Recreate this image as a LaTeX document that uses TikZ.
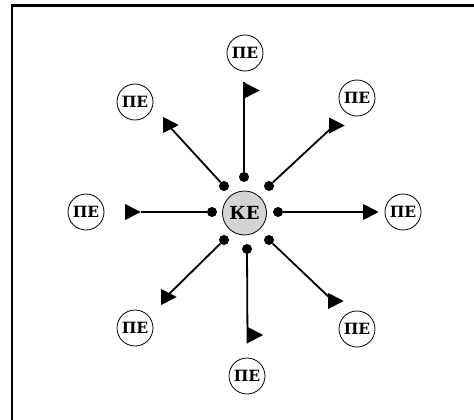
\documentclass[tikz,border=0pt]{standalone}
\usepackage{fontspec}
\setmainfont{DejaVu Serif}
\usetikzlibrary{shapes.geometric,positioning}
\tikzset{
  pe/.style={circle,draw,line width=0.8pt,minimum size=36pt,inner sep=0pt,
    font=\bfseries\fontsize{15.5}{15.5}\selectfont},
  ke/.style={circle,draw,fill=black!17,line width=0.8pt,minimum size=44pt,inner sep=0pt,
    font=\bfseries\fontsize{18}{18}\selectfont},
  jack/.style={circle,fill=black,minimum size=10pt,inner sep=0pt},
  flag/.style={isosceles triangle,isosceles triangle stretches,fill=black,
    minimum width=16pt,minimum height=15.5pt,inner sep=0pt,anchor=lower side},
  wire/.style={line width=1.8pt}
}
\begin{document}
\begin{tikzpicture}[x=1pt,y=-1pt]
	\useasboundingbox (0,0) rectangle (474,420);
	% frame
	\draw [line width=2.5pt] (12,420) -- (12,5.5) -- (474,5.5);
	% centre
	\node [ke] (ke) at (244.5,213) {КЕ};
	\node [jack] (dN) at (244,177) {};
	\node [jack] (dNE) at (269,186) {};
	\node [jack] (dE) at (278,212) {};
	\node [jack] (dSE) at (269,240) {};
	\node [jack] (dS) at (247,249) {};
	\node [jack] (dSW) at (224,240) {};
	\node [jack] (dW) at (212,212) {};
	\node [jack] (dNW) at (224,186) {};
	% flags
	\node [flag] (fN) at (244,90.5) {};
	\node [flag] (fNE) at (329,125.5) {};
	\node [flag] (fE) at (363,212) {};
	\node [flag] (fSE) at (328,301) {};
	\node [flag] (fS) at (247.5,335) {};
	\node [flag] (fSW) at (161,297) {};
	\node [flag] (fW) at (125,212) {};
	\node [flag] (fNW) at (163,125) {};
	% peripherals
	\node [pe] (pN) at (245,53) {ПЕ};
	\node [pe] (pNE) at (357,98) {ПЕ};
	\node [pe] (pE) at (403,212) {ПЕ};
	\node [pe] (pSE) at (357,329) {ПЕ};
	\node [pe] (pS) at (247,376) {ПЕ};
	\node [pe] (pSW) at (135,328) {ПЕ};
	\node [pe] (pW) at (86,212) {ПЕ};
	\node [pe] (pNW) at (135,102) {ПЕ};
	% wires
	\draw [wire] (dN) -- (fN.left corner);
	\draw [wire] (dNE) -- (fNE.center);
	\draw [wire] (dE) -- (fE.lower side);
	\draw [wire] (dSE) -- (fSE.center);
	\draw [wire] (dS) -- (fS.right corner);
	\draw [wire] (dSW) -- (fSW.center);
	\draw [wire] (dW) -- (fW.apex);
	\draw [wire] (dNW) -- (fNW.center);
\end{tikzpicture}
\end{document}
